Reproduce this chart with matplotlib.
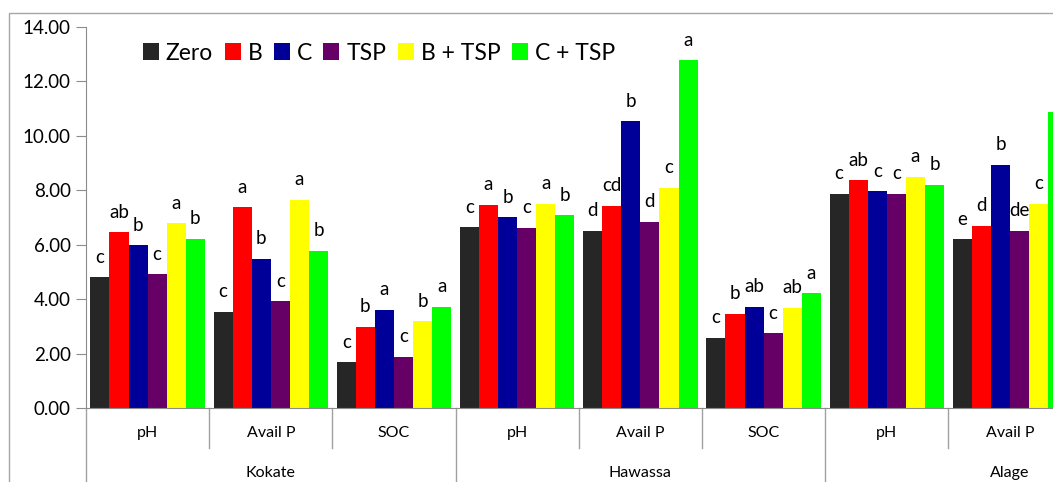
import matplotlib

matplotlib.use("Agg")
import matplotlib.pyplot as plt  # noqa: E402
import numpy as np  # noqa: E402
from matplotlib.patches import Rectangle  # noqa: E402

plt.rcParams["font.family"] = ["Lato", "DejaVu Sans"]

# data (Alage SOC is cut off at the right edge)
sites = ["Kokate", "Hawassa", "Alage"]
params = ["pH", "Avail P", "SOC"]
treatments = ["Zero", "B", "C", "TSP", "B + TSP", "C + TSP"]
colors = ["#262626", "#ff0000", "#000099", "#660066", "#ffff00", "#00ff00"]

zero = [4.80, 3.53, 1.68, 6.64, 6.51, 2.59, 7.88, 6.20]
b = [6.45, 7.38, 2.99, 7.47, 7.44, 3.46, 8.37, 6.70]
c = [5.98, 5.48, 3.61, 7.01, 10.53, 3.71, 7.97, 8.93]
tsp = [4.91, 3.92, 1.89, 6.62, 6.84, 2.74, 7.88, 6.51]
b_tsp = [6.79, 7.65, 3.19, 7.51, 8.09, 3.68, 8.49, 7.51]
c_tsp = [6.21, 5.77, 3.71, 7.08, 12.78, 4.22, 8.20, 10.87]

let_zero = ["c", "c", "c", "c", "d", "c", "c", "e"]
let_b = ["ab", "a", "b", "a", "cd", "b", "ab", "d"]
let_c = ["b", "b", "a", "b", "b", "ab", "c", "b"]
let_tsp = ["c", "c", "c", "c", "d", "c", "c", "de"]
let_b_tsp = ["a", "a", "b", "a", "c", "ab", "a", "c"]
let_c_tsp = ["b", "b", "a", "b", "a", "a", "b", "a"]

series = [zero, b, c, tsp, b_tsp, c_tsp]
letters = [let_zero, let_b, let_c, let_tsp, let_b_tsp, let_c_tsp]

n_cat = len(sites) * len(params)
W, H = 1053, 482
fig = plt.figure(figsize=(W / 100, H / 100), dpi=100)
cat_px = 123.2
ax = fig.add_axes([86 / W, (H - 408) / H, n_cat * cat_px / W, 381 / H])

bw = 0.155
x = np.arange(len(zero)) + 0.5
for i, (vals, labs, col) in enumerate(zip(series, letters, colors)):
    xs = x + (i - 2.5) * bw
    ax.bar(xs, vals, width=bw, color=col, label=treatments[i], linewidth=0)
    for xi, v, t in zip(xs, vals, labs):
        ax.annotate(t, (xi, v), xytext=(0, 10.5), textcoords="offset points",
                    ha="center", va="baseline", fontsize=13.5)

ax.set_xlim(0, n_cat)
ax.set_ylim(0, 14)
ax.set_yticks(np.arange(0, 15, 2))
ax.set_yticklabels([f"{v:.2f}" for v in np.arange(0, 15, 2)], fontsize=13.5)
ax.set_xticks([])
for s in ["top", "right"]:
    ax.spines[s].set_visible(False)
for s in ["left", "bottom"]:
    ax.spines[s].set_color("#8c8c8c")
ax.tick_params(axis="y", length=7, color="#8c8c8c", pad=4)

# category axis: sub labels, group labels and separators
gray = "#a0a0a0"
trans = ax.get_xaxis_transform()
for k in range(n_cat + 1):
    outer = k % len(params) == 0
    ax.plot([k, k], [0, -0.3 if outer else -0.105], color=gray, lw=1,
            transform=trans, clip_on=False)
for k in range(n_cat):
    ax.text(k + 0.5, -0.066, params[k % len(params)], transform=trans,
            ha="center", va="center", fontsize=11.5)
for g, site in enumerate(sites):
    ax.text(g * len(params) + len(params) / 2, -0.171, site, transform=trans,
            ha="center", va="center", fontsize=11.5)

fig.legend(loc="center left", bbox_to_anchor=(143 / W, 1 - 53 / H), ncol=6,
           frameon=False, fontsize=16.5, handlelength=0.7, handleheight=0.7,
           handletextpad=0.3, columnspacing=0.5, borderaxespad=0, borderpad=0)

fig.patches.append(Rectangle((9 / W, -0.1), 1.2, 1.1 - 13 / H, transform=fig.transFigure,
                             fill=False, edgecolor="#a6a6a6", lw=1))

fig.savefig("out.png", dpi=100)
